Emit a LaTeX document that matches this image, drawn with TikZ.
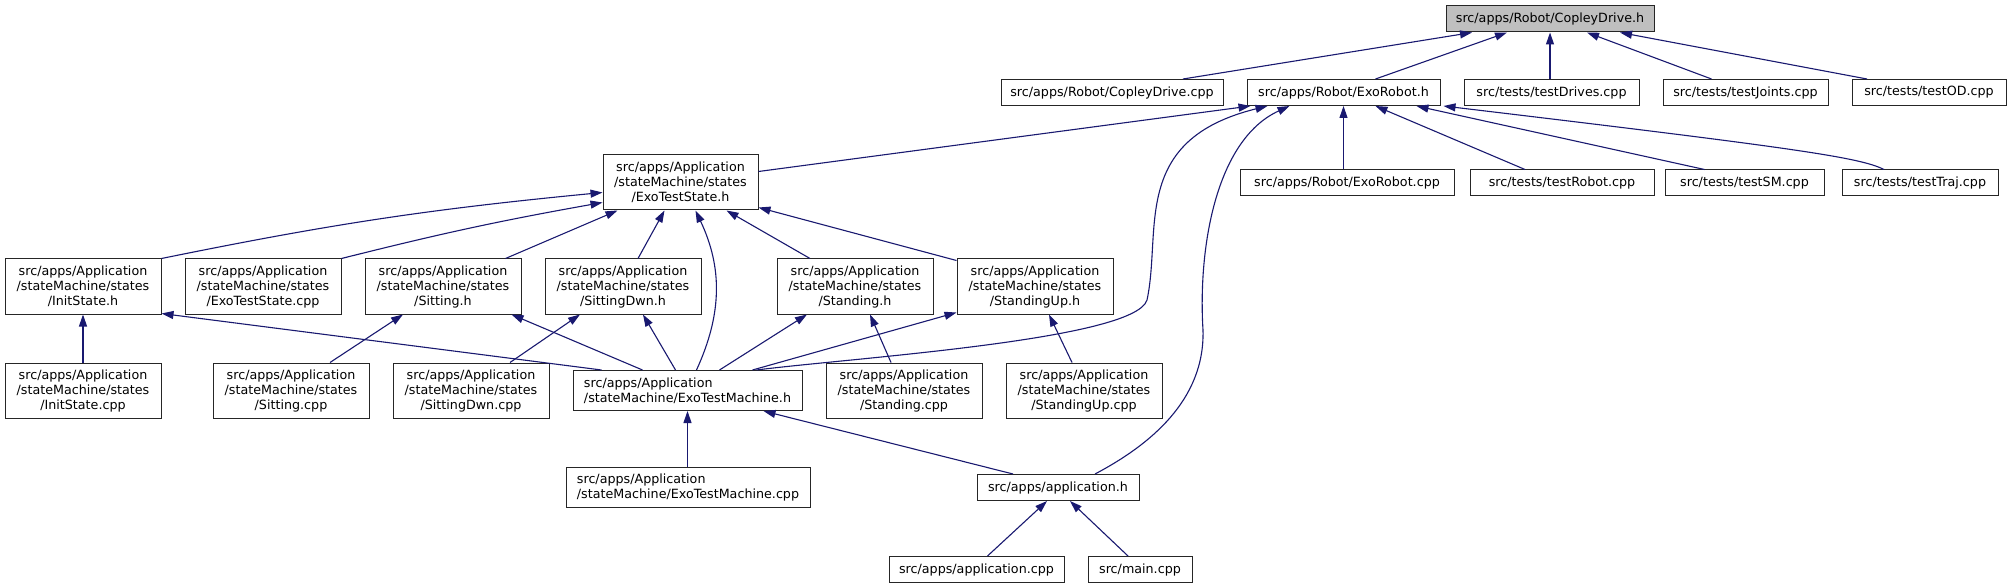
\documentclass[tikz,border=0pt]{standalone}
\usepackage{fontspec}
\setmainfont{DejaVu Sans}
\usepackage{xcolor}
\usepackage{tikz}
\usetikzlibrary{positioning, calc, arrows.meta}
\definecolor{doxyblue}{HTML}{191970}
\definecolor{doxygray}{HTML}{BFBFBF}
\tikzset{
    >={Triangle[length=12pt, width=8pt]},
    node distance=23pt,
    file/.style={draw=black!85, line width=1pt, rectangle, inner sep=2pt, minimum height=26pt, font=\fontsize{12.7}{15}\selectfont, align=center},
    state/.style={file, minimum width=156pt, minimum height=55pt},
    machfile/.style={file, minimum height=40pt, align=left},
    incl/.style={->, draw=doxyblue, line width=1.1pt},
}

\begin{document}
\begin{tikzpicture}[x=1pt, y=-1pt]
        \fill[white] (0,0) rectangle (2011,588);
        \useasboundingbox (0,0) rectangle (2011,588);
        \node[file, fill=doxygray, minimum width=208pt] (copleyh) at (1550,19) {src/apps/Robot/CopleyDrive.h};
        \node[file, minimum width=222pt] (copleycpp) at (1112,92.5) {src/apps/Robot/CopleyDrive.cpp};
        \node[file, minimum width=193pt, right=of copleycpp] (exorobot) {src/apps/Robot/ExoRobot.h};
        \node[file, minimum width=175pt, right=of exorobot] (testdrives) {src/tests/testDrives.cpp};
        \node[file, minimum width=165pt, right=of testdrives] (testjoints) {src/tests/testJoints.cpp};
        \node[file, minimum width=154pt, right=of testjoints] (testod) {src/tests/testOD.cpp};
        \node[file, minimum width=214pt] (exorobotcpp) at (1347,183) {src/apps/Robot/ExoRobot.cpp};
        \node[file, minimum width=184pt] (testrobot) at (1562,183) {src/tests/testRobot.cpp};
        \node[file, minimum width=159pt] (testsm) at (1744.5,183) {src/tests/testSM.cpp};
        \node[file, minimum width=156pt] (testtraj) at (1920,183) {src/tests/testTraj.cpp};
        \node[state, minimum width=155pt] (exostate) at (680.5,182.5) {src/apps/Application\\/stateMachine/states\\/ExoTestState.h};
        \node[state] (initstate) at (83,286.5) {src/apps/Application\\/stateMachine/states\\/InitState.h};
        \node[state, right=of initstate] (exostatecpp) {src/apps/Application\\/stateMachine/states\\/ExoTestState.cpp};
        \node[state, right=of exostatecpp] (sitting) {src/apps/Application\\/stateMachine/states\\/Sitting.h};
        \node[state, right=of sitting] (sittingdwn) {src/apps/Application\\/stateMachine/states\\/SittingDwn.h};
        \node[state] (standing) at (855,286.5) {src/apps/Application\\/stateMachine/states\\/Standing.h};
        \node[state, right=of standing] (standingup) {src/apps/Application\\/stateMachine/states\\/StandingUp.h};
        \node[state] (initcpp) at (83,390.5) {src/apps/Application\\/stateMachine/states\\/InitState.cpp};
        \node[state] (sittingcpp) at (291,390.5) {src/apps/Application\\/stateMachine/states\\/Sitting.cpp};
        \node[state, right=of sittingcpp] (sittingdwncpp) {src/apps/Application\\/stateMachine/states\\/SittingDwn.cpp};
        \node[machfile, minimum width=229pt, right=of sittingdwncpp] (machine) {src/apps/Application\\/stateMachine/ExoTestMachine.h};
        \node[state, right=of machine] (standingcpp) {src/apps/Application\\/stateMachine/states\\/Standing.cpp};
        \node[state, right=of standingcpp] (standingupcpp) {src/apps/Application\\/stateMachine/states\\/StandingUp.cpp};
        \node[machfile, minimum width=244pt] (machinecpp) at (688,487) {src/apps/Application\\/stateMachine/ExoTestMachine.cpp};
        \node[file, minimum width=162pt] (apph) at (1058,487.5) {src/apps/application.h};
        \node[file, minimum width=175pt] (appcpp) at (976.5,569.5) {src/apps/application.cpp};
        \node[file, minimum width=104pt] (maincpp) at (1140,569.5) {src/main.cpp};
        \draw[incl] ($(copleycpp.north)+(71,0)$) -- ($(copleyh.south)+(-78,0)$);
        \draw[incl] ($(exorobot.north)+(32,0)$) -- ($(copleyh.south)+(-43,0)$);
        \draw[incl] (testdrives.north -| copleyh.south) -- (copleyh.south);
        \draw[incl] ($(testjoints.north)+(-34,0)$) -- ($(copleyh.south)+(37,0)$);
        \draw[incl] ($(testod.north)+(-62,0)$) -- ($(copleyh.south)+(70,0)$);
        \draw[incl] (exorobotcpp.north -| exorobot.south) -- (exorobot.south);
        \draw[incl] ($(testrobot.north)+(-37,0)$) -- ($(exorobot.south)+(32,0)$);
        \draw[incl] ($(testsm.north)+(-40,0)$) -- ($(exorobot.south)+(73,0)$);
        \draw[incl] ($(testtraj.north)+(-36,0)$) .. controls ($(testtraj.north)+(-60,-12)$) and ($(testtraj.north)+(-120,-21)$) .. ($(exorobot.south)+(100,0)$);
        \draw[incl] ($(exostate.east)+(0,-11)$) -- ($(exorobot.south west)+(4,0)$);
        \draw[incl] ($(machine.north)+(69,0)$) .. controls (850,358) and (1135,340) .. (1147,300) .. controls (1162,230) and (1130,140) .. ($(exorobot.south)+(-76,0)$);
        \draw[incl] ($(apph.north)+(37,0)$) .. controls (1150,445) and (1205,400) .. (1203,330) .. controls (1198,250) and (1215,140) .. ($(exorobot.south)+(-54,0)$);
        \draw[incl] (initstate.north east) to[bend left=3] ($(exostate.west)+(0,10)$);
        \draw[incl] (exostatecpp.north east) to[bend left=2] ($(exostate.south west)+(0,-8)$);
        \draw[incl] ($(sitting.north east)+(-16,0)$) -- ($(exostate.south west)+(15,0)$);
        \draw[incl] ($(sittingdwn.north)+(15,0)$) -- ($(exostate.south)+(-16,0)$);
        \draw[incl] ($(machine.north)+(9,0)$) to[bend right=25] ($(exostate.south)+(15,0)$);
        \draw[incl] ($(standing.north)+(-45,0)$) -- ($(exostate.south)+(46,0)$);
        \draw[incl] ($(standingup.north west)+(0,2)$) -- ($(exostate.south east)+(0,-3)$);
        \draw[incl] ($(machine.north west)+(29,0)$) -- ($(initstate.south east)+(0,-1)$);
        \draw[incl] ($(machine.north)+(-45,0)$) -- ($(sitting.south east)+(-10,0)$);
        \draw[incl] ($(machine.north)+(-12,0)$) -- ($(sittingdwn.south)+(20,0)$);
        \draw[incl] ($(machine.north)+(32,0)$) -- ($(standing.south)+(-48,0)$);
        \draw[incl] ($(machine.north)+(65,0)$) -- ($(standingup.south west)+(0,-2)$);
        \draw[incl] (initcpp.north) -- (initstate.south);
        \draw[incl] ($(sittingcpp.north)+(39,0)$) -- ($(sitting.south)+(-40,0)$);
        \draw[incl] ($(sittingdwncpp.north)+(39,0)$) -- ($(sittingdwn.south)+(-43,0)$);
        \draw[incl] ($(standingcpp.north)+(-13,0)$) -- ($(standing.south)+(15,0)$);
        \draw[incl] ($(standingupcpp.north)+(-12,0)$) -- ($(standingup.south)+(14,0)$);
        \draw[incl] (machinecpp.north -| machine.south) -- (machine.south);
        \draw[incl] ($(apph.north)+(-45,0)$) -- ($(machine.south east)+(-39,0)$);
        \draw[incl] ($(appcpp.north)+(11,0)$) -- ($(apph.south)+(-11,0)$);
        \draw[incl] ($(maincpp.north)+(-12,0)$) -- ($(apph.south)+(12,0)$);
    \end{tikzpicture}
\end{document}
